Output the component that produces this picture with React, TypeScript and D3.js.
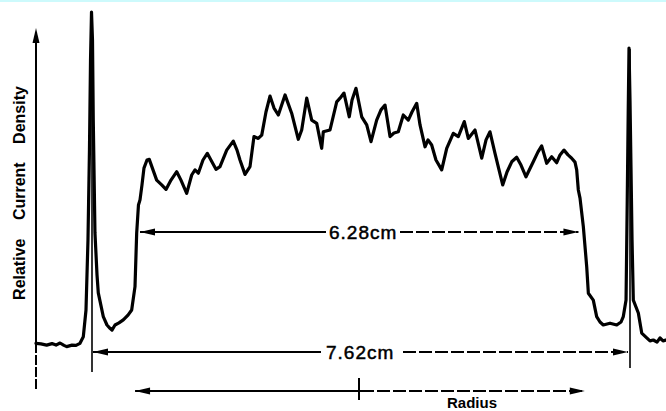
import React from "react";
import * as d3 from "d3";

// Radius (cm) and relative current density
const radiusCm = [
  -4.603, -4.533, -4.452, -4.377, -4.32, -4.263, -4.207, -4.169, -4.093, -4.037,
  -3.98, -3.933, -3.895, -3.867, -3.846, -3.831, -3.817, -3.803, -3.792, -3.768,
  -3.739, -3.721, -3.65, -3.598, -3.555, -3.527, -3.484, -3.428, -3.367, -3.3,
  -3.248, -3.201, -3.177, -3.152, -3.13, -3.102, -3.074, -3.031, -2.999, -2.894,
  -2.823, -2.762, -2.691, -2.61, -2.55, -2.469, -2.398, -2.351, -2.304, -2.238,
  -2.177, -2.139, -2.054, -1.997, -1.902, -1.809, -1.756, -1.714, -1.643, -1.572,
  -1.516, -1.455, -1.406, -1.346, -1.289, -1.232, -1.171, -1.076, -0.982, -0.888,
  -0.84, -0.769, -0.698, -0.627, -0.557, -0.534, -0.439, -0.344, -0.297, -0.241,
  -0.166, -0.127, -0.071, 0.01, 0.081, 0.142, 0.222, 0.283, 0.34, 0.411,
  0.467, 0.528, 0.599, 0.67, 0.722, 0.789, 0.836, 0.907, 0.949, 1.001,
  1.062, 1.143, 1.214, 1.307, 1.378, 1.463, 1.52, 1.615, 1.71, 1.771,
  1.827, 1.898, 1.955, 2.007, 2.068, 2.135, 2.205, 2.266, 2.337, 2.44,
  2.507, 2.559, 2.63, 2.701, 2.772, 2.819, 2.875, 2.932, 2.984, 3.031,
  3.055, 3.078, 3.102, 3.149, 3.197, 3.22, 3.29, 3.338, 3.385, 3.432,
  3.527, 3.622, 3.683, 3.715, 3.754, 3.771, 3.785, 3.796, 3.81, 3.824,
  3.839, 3.857, 3.928, 3.976, 4.047, 4.093, 4.14, 4.193, 4.235, 4.278, 4.32,
];
const density = [
  -0.001, -0.003, -0.007, -0.002, -0.007, 0.0, -0.008, -0.012, -0.007, -0.008,
  -0.001, 0.021, 0.11, 0.343, 0.643, 0.943, 1.103, 1.01, 0.743, 0.367,
  0.227, 0.167, 0.088, 0.06, 0.049, 0.043, 0.06, 0.067, 0.077, 0.093,
  0.11, 0.188, 0.367, 0.46, 0.477, 0.527, 0.583, 0.61, 0.612, 0.543,
  0.527, 0.512, 0.543, 0.571, 0.543, 0.499, 0.56, 0.577, 0.566, 0.61,
  0.632, 0.616, 0.579, 0.588, 0.643, 0.673, 0.643, 0.61, 0.562, 0.588,
  0.688, 0.682, 0.693, 0.77, 0.823, 0.783, 0.76, 0.827, 0.766, 0.679,
  0.71, 0.816, 0.743, 0.732, 0.649, 0.704, 0.71, 0.804, 0.816, 0.833,
  0.754, 0.81, 0.849, 0.754, 0.727, 0.671, 0.743, 0.777, 0.793, 0.688,
  0.7, 0.704, 0.76, 0.743, 0.77, 0.799, 0.727, 0.654, 0.677, 0.66,
  0.61, 0.577, 0.649, 0.699, 0.688, 0.738, 0.682, 0.71, 0.616, 0.677,
  0.704, 0.632, 0.577, 0.527, 0.57, 0.604, 0.619, 0.593, 0.554, 0.604,
  0.637, 0.657, 0.599, 0.621, 0.601, 0.627, 0.643, 0.627, 0.616, 0.603,
  0.577, 0.51, 0.483, 0.388, 0.254, 0.166, 0.143, 0.088, 0.07, 0.06,
  0.066, 0.06, 0.07, 0.088, 0.143, 0.477, 0.777, 0.983, 0.81, 0.587,
  0.343, 0.143, 0.1, 0.033, 0.017, 0.007, 0.01, 0.003, 0.017, 0.007, 0.01,
];

// Annotations (cm)
const outerMarks = [-3.81, 3.81]; // anode edges (7.62 cm)
const innerMarks = [-3.13, 3.08]; // flat region (6.28 cm)
const radiusArrow = [-3.2, 3.17];
const radiusTick = 0;
const innerLabel = "6.28cm";
const outerLabel = "7.62cm";
const xLabel = "Radius";
const yLabel = "Relative Current Density";

const W = 666;
const H = 411;

const x = d3.scaleLinear().domain([-3.81, 3.81]).range([92, 630]);
const y = d3.scaleLinear().domain([0, 1]).range([343, 43]);

const font = "'Liberation Sans', Arial, Helvetica, sans-serif";

function arrowHead(tx: number, ty: number, dir: number, len = 15, hw = 3.5) {
  return `M${tx},${ty} L${tx - dir * len},${ty - hw} L${tx - dir * len},${ty + hw} Z`;
}

function DimLine({
  x0, x1, yy, gapL, gapR,
}: { x0: number; x1: number; yy: number; gapL: number; gapR: number }) {
  return (
    <g>
      <line x1={x0} x2={gapL} y1={yy} y2={yy} stroke="#000" strokeWidth={1.8} />
      <line x1={gapR} x2={x1} y1={yy} y2={yy} stroke="#000" strokeWidth={1.8} strokeDasharray="13 3" />
      <path d={arrowHead(x0, yy, -1)} fill="#000" />
      <path d={arrowHead(x1, yy, 1)} fill="#000" />
    </g>
  );
}

export default function App() {
  const line = d3
    .line<number>()
    .x((_, i) => x(radiusCm[i]))
    .y((d) => y(d))
    .curve(d3.curveLinear);

  const yAxisX = 36;
  const yTop = y(1.05);
  const yBase = y(0);
  const yBottom = y(-0.157);

  const innerY = y(0.37);
  const outerY = y(-0.03);
  const radY = y(-0.16);

  return (
    <svg
      width={W}
      height={H}
      viewBox={`0 0 ${W} ${H}`}
      style={{ position: "absolute", left: 0, top: 0, background: "#fff" }}
    >
      <rect x={0} y={0} width={W} height={H} fill="#fff" />
      <rect x={0} y={0} width={W} height={2} fill="#cdfafc" />

      {/* y axis */}
      <line x1={yAxisX} x2={yAxisX} y1={yTop + 10} y2={yBase} stroke="#000" strokeWidth={2} />
      <line x1={yAxisX} x2={yAxisX} y1={yBase} y2={yBottom} stroke="#000" strokeWidth={2} strokeDasharray="10 2" />
      <path d={`M${yAxisX},${yTop} L${yAxisX - 3.5},${yTop + 15} L${yAxisX + 3.5},${yTop + 15} Z`} fill="#000" />

      {/* edge markers */}
      <line x1={x(outerMarks[0])} x2={x(outerMarks[0])} y1={y(1.1)} y2={y(-0.097)} stroke="#000" strokeWidth={1.6} />
      <line x1={x(outerMarks[1])} x2={x(outerMarks[1])} y1={y(0.98)} y2={y(-0.083)} stroke="#000" strokeWidth={1.6} />

      {/* profile */}
      <path
        d={line(density) || ""}
        fill="none"
        stroke="#000"
        strokeWidth={3.2}
        strokeLinejoin="round"
        strokeLinecap="round"
      />

      {/* 6.28 cm */}
      <DimLine x0={x(innerMarks[0])} x1={x(innerMarks[1])} yy={innerY} gapL={326} gapR={400} />
      <text x={329} y={239} fontFamily={font} fontSize={19} letterSpacing={1} fill="#000" stroke="#000" strokeWidth={0.5}>
        {innerLabel}
      </text>

      {/* 7.62 cm */}
      <DimLine x0={x(outerMarks[0]) + 1} x1={x(outerMarks[1]) - 2} yy={outerY} gapL={321} gapR={403} />
      <text x={326} y={359} fontFamily={font} fontSize={19} letterSpacing={1} fill="#000" stroke="#000" strokeWidth={0.5}>
        {outerLabel}
      </text>

      {/* radius axis */}
      <line x1={x(radiusArrow[0])} x2={x(radiusTick)} y1={radY} y2={radY} stroke="#000" strokeWidth={1.8} />
      <line x1={x(radiusTick)} x2={x(radiusArrow[1])} y1={radY} y2={radY} stroke="#000" strokeWidth={1.8} strokeDasharray="13 3" />
      <path d={arrowHead(x(radiusArrow[0]), radY, -1)} fill="#000" />
      <path d={arrowHead(x(radiusArrow[1]), radY, 1)} fill="#000" />
      <line x1={x(radiusTick) - 2} x2={x(radiusTick) - 2} y1={radY - 13} y2={radY + 9} stroke="#000" strokeWidth={2} />
      <text x={447} y={408} fontFamily={font} fontSize={15} fontWeight="bold" fill="#000">
        {xLabel}
      </text>

      {/* y label */}
      <text
        transform="translate(25,193) rotate(-90)"
        textAnchor="middle"
        fontFamily={font}
        fontSize={16}
        fontWeight="bold"
        wordSpacing={14}
        fill="#000"
      >
        {yLabel}
      </text>
    </svg>
  );
}
